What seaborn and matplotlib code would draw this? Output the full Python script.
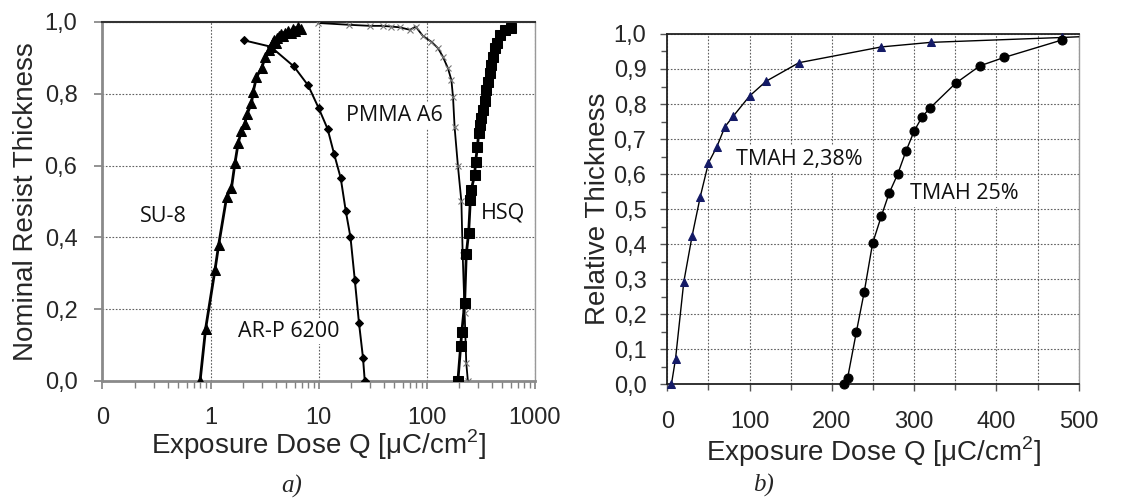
import numpy as np
import pandas as pd
import seaborn as sns
import matplotlib
matplotlib.use("Agg")
import matplotlib.pyplot as plt
from matplotlib.ticker import FixedLocator, FixedFormatter, FuncFormatter, LogLocator, MultipleLocator

# ---- panel a) : contrast curves, log dose ----
su8_dose = [0.80, 0.90, 1.10, 1.19, 1.41, 1.56, 1.68, 1.80, 1.93, 2.07, 2.18, 2.39, 2.48, 2.66,
            2.96, 3.22, 3.44, 3.60, 3.75, 3.90, 4.00, 4.10, 4.30, 4.50, 4.70, 4.90, 5.20, 5.50,
            5.80, 6.10, 6.40, 6.80]
su8_thick = [0.0, 0.145, 0.31, 0.38, 0.513, 0.537, 0.606, 0.662, 0.697, 0.716, 0.744, 0.773, 0.806, 0.846,
             0.871, 0.903, 0.922, 0.93, 0.945, 0.95, 0.94, 0.955, 0.96, 0.965, 0.96, 0.97, 0.975, 0.97,
             0.98, 0.975, 0.985, 0.98]

arp_dose = [2.02, 3.6, 5.9, 8.0, 10.0, 12.1, 13.9, 16.0, 17.8, 19.7, 21.6, 23.6, 25.7, 26.7]
arp_thick = [0.949, 0.931, 0.876, 0.823, 0.760, 0.702, 0.632, 0.565, 0.474, 0.400, 0.281, 0.162, 0.065, 0.0]

pmma_dose = [9.9, 19, 30, 39, 47, 56, 70, 79, 92, 110, 127, 141, 157, 169, 175, 181, 194, 209, 215, 224, 232, 240]
pmma_thick = [0.997, 0.992, 0.989, 0.989, 0.987, 0.985, 0.978, 0.987, 0.961, 0.945, 0.927, 0.903, 0.871, 0.838,
              0.79, 0.706, 0.60, 0.50, 0.35, 0.19, 0.05, 0.0]

hsq_dose = [194, 206, 211, 224, 232, 244, 253, 258, 277, 283, 294, 302, 308, 320, 331, 343, 356, 368,
            382, 396, 410, 425, 446, 472, 525, 605]
hsq_thick = [0.0, 0.098, 0.137, 0.216, 0.353, 0.413, 0.504, 0.532, 0.574, 0.611, 0.651, 0.690, 0.713, 0.732,
             0.755, 0.781, 0.811, 0.834, 0.857, 0.880, 0.903, 0.927, 0.941, 0.964, 0.978, 0.982]

# ---- panel b) : linear dose ----
tmah238_dose = [5, 10, 20, 30, 40, 50, 60, 70, 80, 100, 120, 160, 260, 320, 480, 500]
tmah238_thick = [0.0, 0.073, 0.292, 0.422, 0.535, 0.632, 0.677, 0.735, 0.765, 0.823, 0.865, 0.918,
                 0.963, 0.976, 0.99, 0.992]

tmah25_dose = [214.6, 219, 229.6, 239.3, 249.4, 259.9, 269.6, 279.8, 289.9, 300, 309.7, 319.8, 350.2,
               379.8, 409.3, 479.8]
tmah25_thick = [0.0, 0.017, 0.148, 0.264, 0.402, 0.479, 0.546, 0.599, 0.665, 0.723, 0.764, 0.790, 0.859,
                0.909, 0.933, 0.983]

sns.set_style("white")
plt.rcParams['font.family'] = ['Liberation Sans', 'DejaVu Sans']

fig = plt.figure(figsize=(11.32, 4.98), dpi=100)
ax1 = fig.add_axes([0.0905, 0.235, 0.382, 0.721])
ax2 = fig.add_axes([0.5895, 0.2283, 0.3635, 0.7035])

comma = FuncFormatter(lambda v, p: ("%.1f" % v).replace(".", ","))
grid_kw = dict(color="#606060", linestyle=(0, (1.5, 1.5)), linewidth=0.8)
xlab = "Exposure Dose Q [$\\mathregular{\\mu}$C/cm$^\\mathregular{2}$]"

# ----- a) -----
def curve(ax, x, y, **kw):
    df = pd.DataFrame({"x": x, "y": y})
    sns.lineplot(data=df, x="x", y="y", ax=ax, sort=False, estimator=None, zorder=4, **kw)

curve(ax1, pmma_dose, pmma_thick, color="black", lw=1.3, marker="x", markersize=4,
      markeredgecolor="#777777", markeredgewidth=0.8)
curve(ax1, arp_dose, arp_thick, color="black", lw=1.4, marker="D", markersize=4.5,
      markeredgecolor="black")
curve(ax1, su8_dose, su8_thick, color="black", lw=2, marker="^", markersize=6.5,
      markeredgecolor="black")
curve(ax1, hsq_dose, hsq_thick, color="black", lw=2, marker="s", markersize=7,
      markeredgecolor="black")

ax1.set_xscale("log")
ax1.set_xlim(0.1, 1000)
ax1.set_ylim(0, 1.0)
ax1.xaxis.set_major_locator(FixedLocator([0.1, 1, 10, 100, 1000]))
ax1.xaxis.set_major_formatter(FixedFormatter(["0", "1", "10", "100", "1000"]))
ax1.xaxis.set_minor_locator(LogLocator(base=10, subs=np.arange(2, 10)))
ax1.xaxis.set_minor_formatter(FixedFormatter([]))
ax1.yaxis.set_major_locator(MultipleLocator(0.2))
ax1.yaxis.set_major_formatter(comma)
ax1.grid(True, which="major", **grid_kw)
ax1.set_axisbelow(True)
ax1.tick_params(axis="both", which="major", labelsize=17, direction="out", length=6,
                width=1.2, color="#808080", bottom=True, left=True)
ax1.tick_params(axis="x", which="minor", direction="out", length=5, width=1, color="#808080", bottom=True)
ax1.tick_params(axis="x", which="major", pad=13)
ax1.tick_params(axis="y", which="major", pad=12)
ax1.set_xlabel(xlab, fontsize=20, labelpad=-1)
ax1.set_ylabel("Nominal Resist Thickness", fontsize=20, labelpad=4)
for s in ["left", "bottom"]:
    ax1.spines[s].set_color("#8a8a8a")
    ax1.spines[s].set_linewidth(2)
ax1.spines["top"].set_color("#333333")
ax1.spines["top"].set_linewidth(1.5)
ax1.spines["right"].set_color("#999999")
ax1.spines["right"].set_linewidth(1)

note_kw = dict(family=["Open Sans", "DejaVu Sans"], fontsize=15.5, ha="center", va="center",
               color="#111111", zorder=3,
               bbox=dict(facecolor="white", edgecolor="none", pad=2))
ax1.text(0.37, 0.458, "SU-8", **note_kw)
ax1.text(50.5, 0.738, "PMMA A6", **note_kw)
ax1.text(510, 0.467, "HSQ", **note_kw)
ax1.text(5.26, 0.139, "AR-P 6200", **note_kw)

# ----- b) -----
curve(ax2, tmah238_dose, tmah238_thick, color="black", lw=1, marker="^", markersize=5.5,
      markerfacecolor="#141a66", markeredgecolor="#141a66", markevery=list(range(len(tmah238_dose) - 1)),
      clip_on=False)
curve(ax2, tmah25_dose, tmah25_thick, color="black", lw=1, marker="o", markersize=6.5,
      markerfacecolor="black", markeredgecolor="black", clip_on=False)

ax2.set_xlim(0, 500)
ax2.set_ylim(0, 1.0)
ax2.xaxis.set_major_locator(MultipleLocator(100))
ax2.xaxis.set_minor_locator(MultipleLocator(50))
ax2.yaxis.set_major_locator(MultipleLocator(0.1))
ax2.yaxis.set_minor_locator(MultipleLocator(0.05))
ax2.yaxis.set_major_formatter(comma)
ax2.grid(True, which="major", axis="y", **grid_kw)
ax2.grid(True, which="both", axis="x", **grid_kw)
ax2.set_axisbelow(True)
ax2.tick_params(axis="both", which="major", labelsize=17, direction="out", length=5,
                width=1, color="#555555", bottom=True, left=True)
ax2.tick_params(axis="both", which="minor", direction="out", length=4, width=1,
                color="#555555", bottom=True, left=True)
ax2.tick_params(axis="x", which="major", pad=14)
ax2.tick_params(axis="y", which="major", pad=10)
ax2.set_xlabel(xlab, fontsize=20, labelpad=1)
ax2.set_ylabel("Relative Thickness", fontsize=20, labelpad=2)
for s in ["left", "bottom", "top"]:
    ax2.spines[s].set_color("#222222")
    ax2.spines[s].set_linewidth(1.3)
ax2.spines["right"].set_color("#999999")
ax2.spines["right"].set_linewidth(1)

ax2.text(161, 0.642, "TMAH 2,38%", **note_kw)
ax2.text(360.7, 0.545, "TMAH 25%", **note_kw)

cap_kw = dict(family=["Liberation Serif", "DejaVu Serif"], style="italic", fontsize=18,
              ha="center", va="center")
fig.text(292 / 1132, 1 - 486 / 498, "a)", **cap_kw)
fig.text(764 / 1132, 1 - 485 / 498, "b)", **cap_kw)

fig.savefig("out.png", dpi=100)
